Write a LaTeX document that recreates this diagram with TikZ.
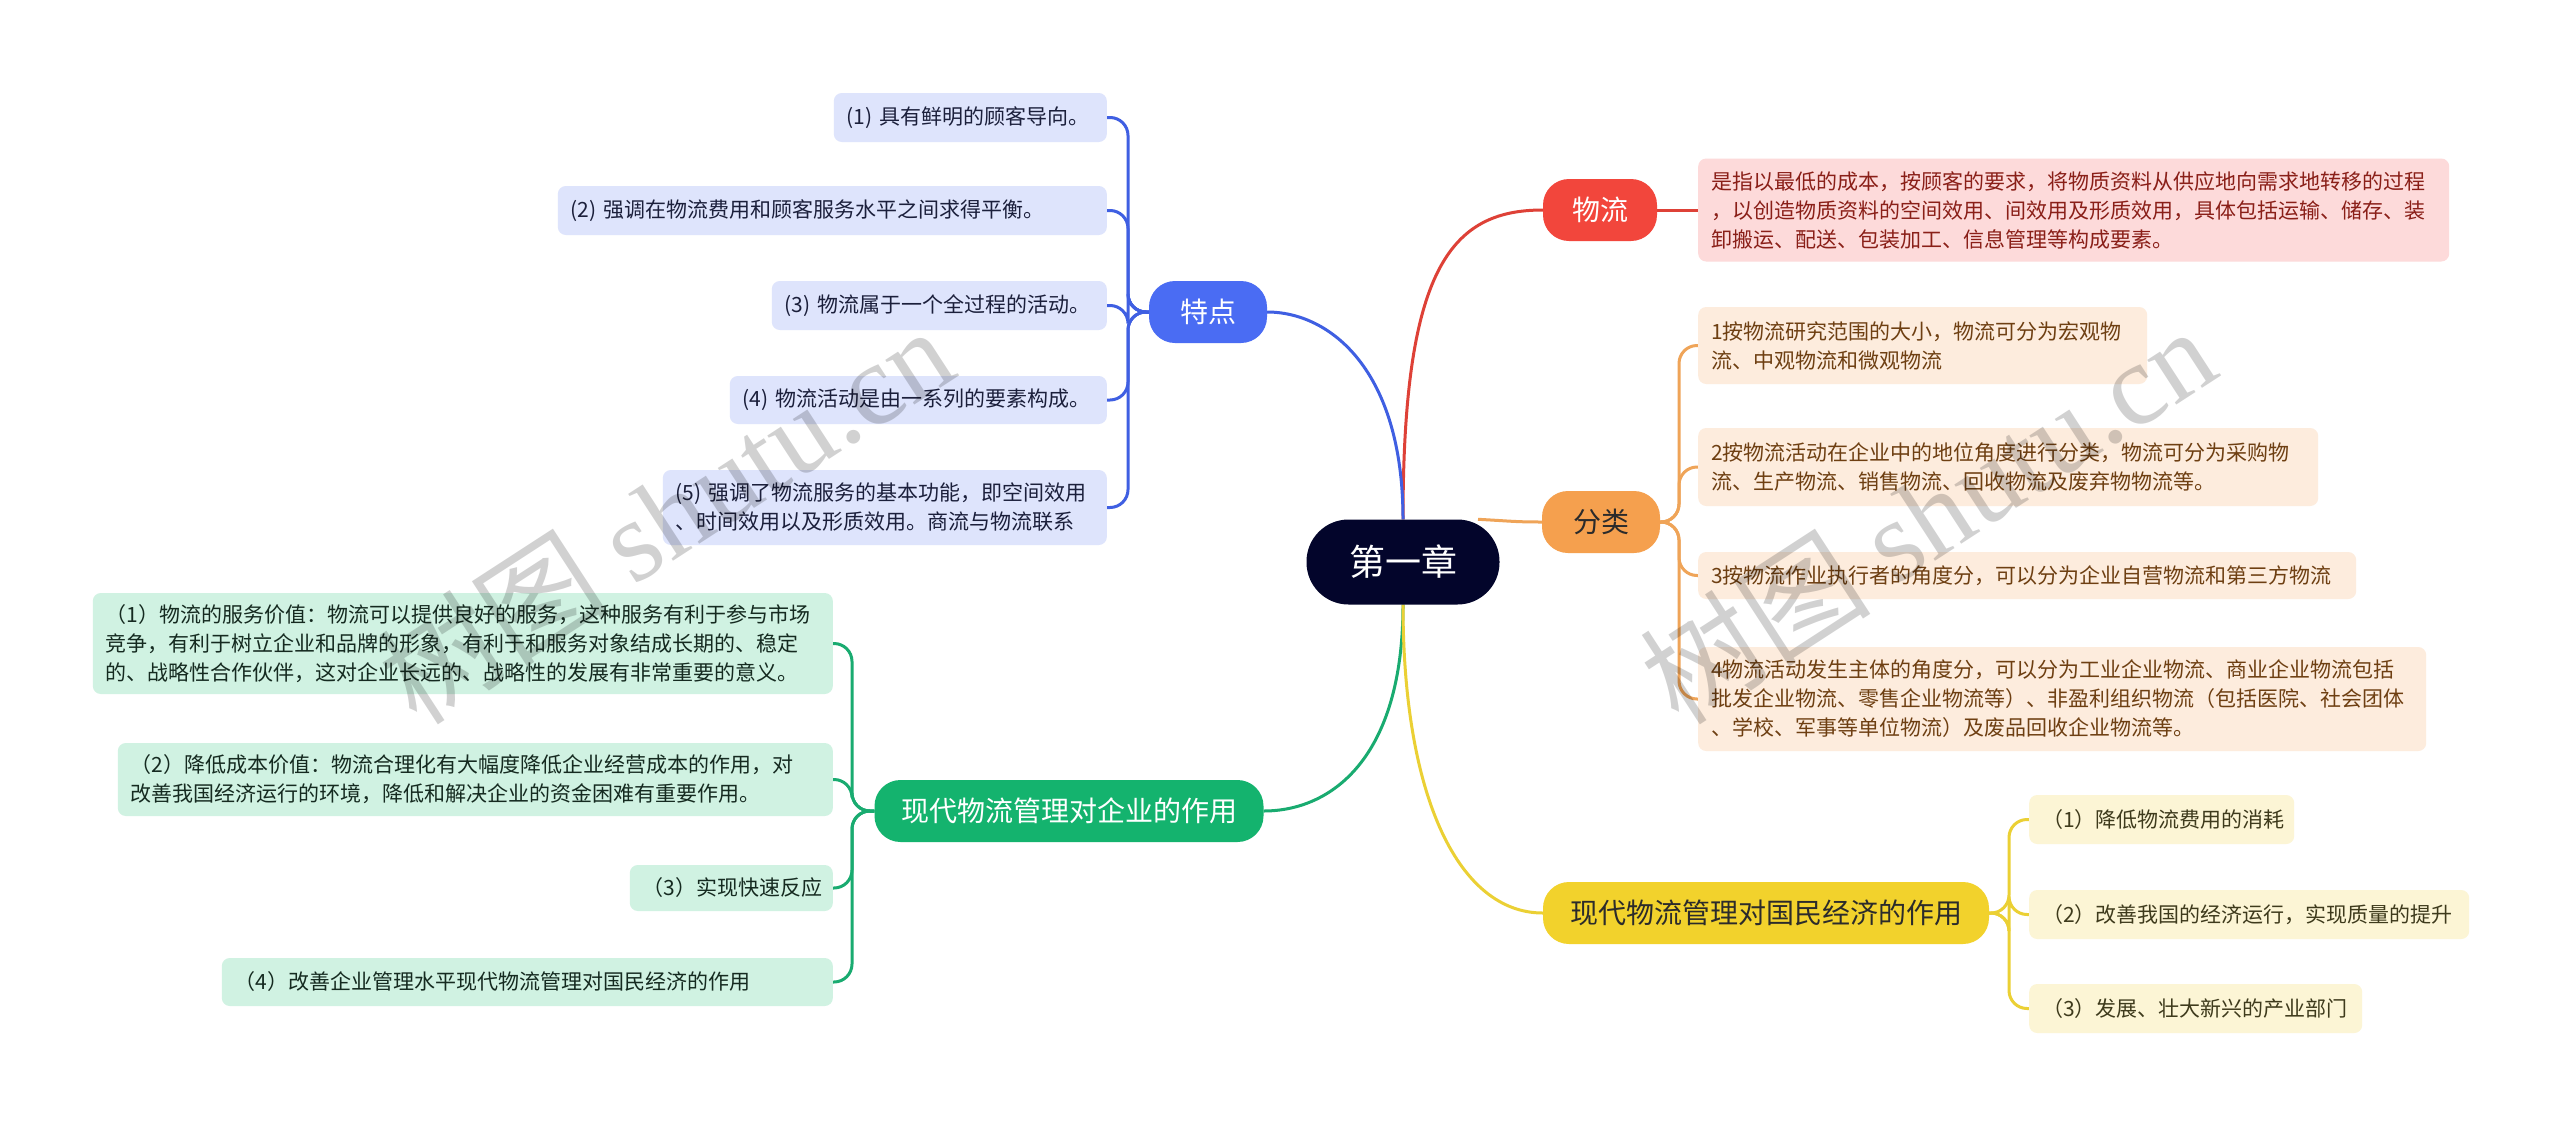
\documentclass[tikz,border=0pt]{standalone}
\usepackage{fontspec}
\setmainfont{Noto Sans CJK SC}
\newfontfamily\wmlatin{Liberation Serif}
\usetikzlibrary{calc}
\pgfdeclarelayer{back}
\pgfdeclarelayer{bg}
\pgfsetlayers{back,bg,main}
\definecolor{rootc}{HTML}{03052B}
\definecolor{redc}{HTML}{F2463C}
\definecolor{redl}{HTML}{DE4137}
\definecolor{orgc}{HTML}{F5A04E}
\definecolor{orgl}{HTML}{EFA458}
\definecolor{bluec}{HTML}{4A6CF3}
\definecolor{bluel}{HTML}{3F5FE2}
\definecolor{greenc}{HTML}{14B36E}
\definecolor{greenl}{HTML}{19AB70}
\definecolor{yelc}{HTML}{F2D22C}
\definecolor{yell}{HTML}{EBD034}
\definecolor{darktxt}{HTML}{2B2B2B}
\definecolor{dfill}{HTML}{FDDADA}
\definecolor{dtext}{HTML}{8A1F18}
\definecolor{cfill}{HTML}{FDECDD}
\definecolor{ctext}{HTML}{6E3F12}
\definecolor{tfill}{HTML}{DEE4FC}
\definecolor{ttext}{HTML}{1B1F3B}
\definecolor{gfill}{HTML}{D0F2E2}
\definecolor{gtext}{HTML}{152A20}
\definecolor{yfill}{HTML}{FCF5D5}
\definecolor{ytext}{HTML}{3E3A1C}
\begin{document}
\begin{tikzpicture}[x=1pt,y=-1pt,
  rootst/.style={fill=rootc, text=white, rounded corners=42pt, minimum width=193pt, minimum height=85pt, inner sep=0pt, font=\fontsize{36}{40}\selectfont},
  topic/.style={rounded corners=26pt, minimum height=62pt, inner sep=0pt, font=\fontsize{28}{32}\selectfont},
  leaf/.style={rounded corners=8pt, align=left, inner xsep=13pt, inner ysep=0pt, font=\fontsize{21}{29}\selectfont},
  tleaf/.style={leaf, fill=tfill, text=ttext, anchor=east},
  gleaf/.style={leaf, fill=gfill, text=gtext, anchor=east},
  cleaf/.style={leaf, fill=cfill, text=ctext, anchor=west},
  yleaf/.style={leaf, fill=yfill, text=ytext, anchor=west},
  conn/.style={line width=3pt},
  wm/.style={rotate=33, text=black, text opacity=0.18, font=\fontsize{116}{116}\selectfont}
]
\begin{pgfonlayer}{back}
\path[use as bounding box, fill=white] (0,0) rectangle (2560,1125);
\end{pgfonlayer}

% root
\node[rootst] (root) at (1403,562) {第一章};

% main topics
\node[topic, fill=redc, text=white, minimum width=114pt] (wl) at (1600,210) {物流};
\node[topic, fill=orgc, text=darktxt, minimum width=118pt] (fl) at (1601,522) {分类};
\node[topic, fill=bluec, text=white, minimum width=118pt] (td) at (1208,312) {特点};
\node[topic, fill=greenc, text=white, minimum width=389pt] (qy) at (1069,811) {现代物流管理对企业的作用};
\node[topic, fill=yelc, text=darktxt, minimum width=446pt] (gm) at (1766,913) {现代物流管理对国民经济的作用};

% 物流 detail
\node[leaf, fill=dfill, text=dtext, anchor=west, text width=725pt, minimum height=103pt] (d) at (1698,210)
  {是指以最低的成本，按顾客的要求，将物质资料从供应地向需求地转移的过程\\，以创造物质资料的空间效用、间效用及形质效用，具体包括运输、储存、装\\卸搬运、配送、包装加工、信息管理等构成要素。};

% 特点 items
\node[tleaf, text width=247pt, minimum height=49pt] (t1) at (1107,117.5) {(1)~具有鲜明的顾客导向。};
\node[tleaf, text width=523pt, minimum height=49pt] (t2) at (1107,210.5) {(2)~强调在物流费用和顾客服务水平之间求得平衡。};
\node[tleaf, text width=309pt, minimum height=49pt] (t3) at (1107,305.5) {(3)~物流属于一个全过程的活动。};
\node[tleaf, text width=351pt, minimum height=48pt] (t4) at (1107,400) {(4)~物流活动是由一系列的要素构成。};
\node[tleaf, text width=418pt, minimum height=75pt] (t5) at (1107,507.5) {(5)~强调了物流服务的基本功能，即空间效用\\、时间效用以及形质效用。商流与物流联系};

% 分类 items
\node[cleaf, text width=423pt, minimum height=77pt] (c1) at (1698,345.5) {1按物流研究范围的大小，物流可分为宏观物\\流、中观物流和微观物流};
\node[cleaf, text width=594pt, minimum height=78pt] (c2) at (1698,467) {2按物流活动在企业中的地位角度进行分类，物流可分为采购物\\流、生产物流、销售物流、回收物流及废弃物物流等。};
\node[cleaf, text width=632pt, minimum height=47pt] (c3) at (1698,575.5) {3按物流作业执行者的角度分，可以分为企业自营物流和第三方物流};
\node[cleaf, text width=702pt, minimum height=104pt] (c4) at (1698,699) {4物流活动发生主体的角度分，可以分为工业企业物流、商业企业物流包括\\批发企业物流、零售企业物流等）、非盈利组织物流（包括医院、社会团体\\、学校、军事等单位物流）及废品回收企业物流等。};

% 企业 items
\node[gleaf, text width=714pt, minimum height=101pt] (g1) at (833,643.5) {（1）物流的服务价值：物流可以提供良好的服务，这种服务有利于参与市场\\竞争，有利于树立企业和品牌的形象，有利于和服务对象结成长期的、稳定\\的、战略性合作伙伴，这对企业长远的、战略性的发展有非常重要的意义。};
\node[gleaf, text width=689pt, minimum height=73pt] (g2) at (833,779.5) {（2）降低成本价值：物流合理化有大幅度降低企业经营成本的作用，对\\改善我国经济运行的环境，降低和解决企业的资金困难有重要作用。};
\node[gleaf, text width=177pt, minimum height=46pt] (g3) at (833,888) {（3）实现快速反应};
\node[gleaf, text width=585pt, minimum height=48pt] (g4) at (833,982) {（4）改善企业管理水平现代物流管理对国民经济的作用};

% 国民经济 items
\node[yleaf, text width=239pt, minimum height=49pt] (y1) at (2029,819.5) {（1）降低物流费用的消耗};
\node[yleaf, text width=414pt, minimum height=49pt] (y2) at (2029,914.5) {（2）改善我国的经济运行，实现质量的提升};
\node[yleaf, text width=307pt, minimum height=49pt] (y3) at (2029,1008.5) {（3）发展、壮大新兴的产业部门};

% junction points
\coordinate (tdj) at (1128,312);
\coordinate (flj) at (1679,522);
\coordinate (qyj) at (852,811);
\coordinate (gmj) at (2009,913);

\begin{pgfonlayer}{bg}
\draw[conn, redl] (root.north) .. controls (1403,270) and (1450,210) .. (wl.west);
\draw[conn, bluel] (root.north) .. controls (1403,370) and (1330,312) .. (td.east);
\draw[conn, orgl] ([xshift=75pt]root.north) .. controls (1510,521) and (1515,522) .. (fl.west);
\draw[conn, greenl] (root.south) .. controls (1403,760) and (1330,811) .. (qy.east);
\draw[conn, yell] (root.south) .. controls (1403,800) and (1460,913) .. (gm.west);
\draw[conn, redl] (wl.east) -- (d.west);
\foreach \n in {t1,t2,t3,t4,t5}
  \draw[conn, bluel, rounded corners=18pt] (td.west) -- (tdj) |- (\n.east);
\foreach \n in {c1,c2,c3,c4}
  \draw[conn, orgl, rounded corners=18pt] (fl.east) -- (flj) |- (\n.west);
\foreach \n in {g1,g2,g3,g4}
  \draw[conn, greenl, rounded corners=18pt] (qy.west) -- (qyj) |- (\n.east);
\foreach \n in {y1,y2,y3}
  \draw[conn, yell, rounded corners=18pt] (gm.east) -- (gmj) |- (\n.west);
\end{pgfonlayer}

% watermarks
\node[wm] (wm1) at (665,514) {树图 {\wmlatin shutu.cn}};
\node[wm] (wm2) at (1927,514) {树图 {\wmlatin shutu.cn}};
\end{tikzpicture}
\end{document}
